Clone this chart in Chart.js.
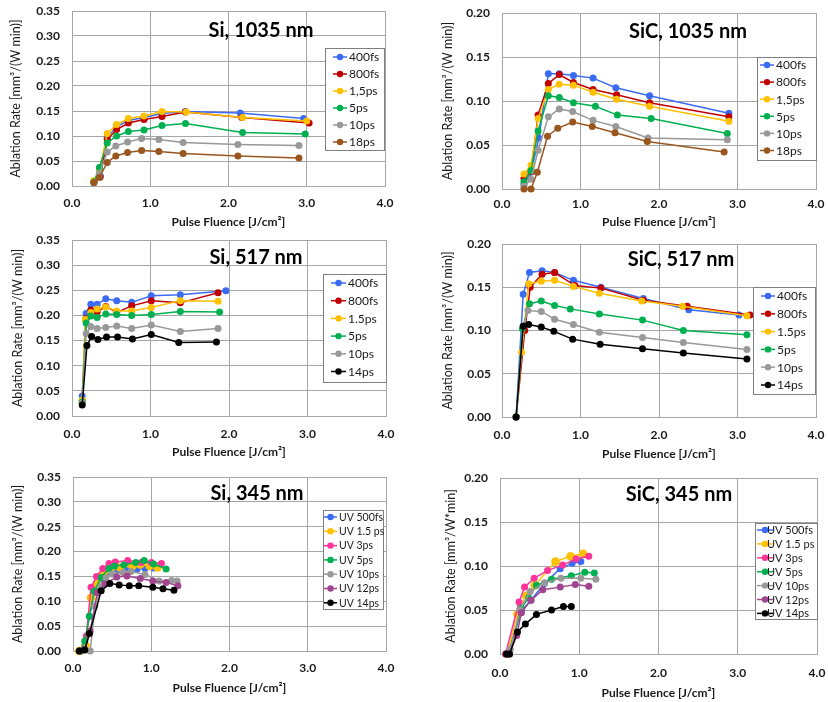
<!DOCTYPE html>
<html>
<head>
<meta charset="utf-8">
<title>Ablation rate vs pulse fluence</title>
<script src="https://cdn.jsdelivr.net/npm/chart.js@4.4.1/dist/chart.umd.min.js"></script>
<style>
  html, body { margin: 0; padding: 0; background: #fff; }
  body { width: 828px; height: 702px; position: relative; overflow: hidden; }
  canvas { position: absolute; }
</style>
</head>
<body>
<canvas id="p1"></canvas>
<canvas id="p2"></canvas>
<canvas id="p3"></canvas>
<canvas id="p4"></canvas>
<canvas id="p5"></canvas>
<canvas id="p6"></canvas>
<script>
// ---------- Daten ----------
const xTicks = [0, 1, 2, 3, 4];
const yTicksSi = [0, 0.05, 0.10, 0.15, 0.20, 0.25, 0.30, 0.35];
const yTicksSiC = [0, 0.05, 0.10, 0.15, 0.20];

// Si, 1035 nm
const si1035Labels = ['400fs', '800fs', '1,5ps', '5ps', '10ps', '18ps'];
const si1035Fluence = [
    [0.28, 0.36, 0.45, 0.57, 0.72, 0.92, 1.15, 1.45, 2.15, 2.96],
    [0.28, 0.36, 0.45, 0.57, 0.72, 0.92, 1.15, 1.45, 2.17, 3.03],
    [0.28, 0.35, 0.45, 0.57, 0.72, 0.92, 1.15, 1.46, 2.18, 3.00],
    [0.28, 0.35, 0.45, 0.57, 0.72, 0.92, 1.15, 1.45, 2.18, 2.98],
    [0.28, 0.35, 0.45, 0.56, 0.71, 0.89, 1.11, 1.42, 2.12, 2.90],
    [0.28, 0.35, 0.45, 0.56, 0.71, 0.89, 1.11, 1.42, 2.12, 2.90]
];
const si1035Rate = [
    [0.009, 0.021, 0.097, 0.119, 0.131, 0.137, 0.145, 0.149, 0.146, 0.135],
    [0.008, 0.018, 0.093, 0.113, 0.126, 0.133, 0.139, 0.148, 0.137, 0.126],
    [0.011, 0.030, 0.105, 0.123, 0.135, 0.140, 0.149, 0.148, 0.137, 0.130],
    [0.008, 0.037, 0.086, 0.100, 0.109, 0.112, 0.121, 0.125, 0.107, 0.104],
    [0.006, 0.025, 0.068, 0.080, 0.088, 0.095, 0.093, 0.087, 0.083, 0.081],
    [0.007, 0.017, 0.047, 0.060, 0.067, 0.071, 0.069, 0.065, 0.060, 0.056]
];

// SiC, 1035 nm
const sic1035Labels = ['400fs', '800fs', '1,5ps', '5ps', '10ps', '18ps'];
const sic1035Fluence = [
    [0.28, 0.37, 0.47, 0.59, 0.73, 0.91, 1.16, 1.45, 1.88, 2.89],
    [0.28, 0.37, 0.46, 0.59, 0.73, 0.91, 1.16, 1.46, 1.88, 2.89],
    [0.28, 0.37, 0.46, 0.59, 0.73, 0.91, 1.16, 1.46, 1.88, 2.89],
    [0.28, 0.37, 0.46, 0.59, 0.73, 0.91, 1.19, 1.47, 1.90, 2.87],
    [0.28, 0.37, 0.46, 0.59, 0.73, 0.90, 1.16, 1.45, 1.86, 2.87],
    [0.28, 0.37, 0.45, 0.58, 0.71, 0.90, 1.15, 1.44, 1.85, 2.83]
];
const sic1035Rate = [
    [0.005, 0.019, 0.058, 0.131, 0.131, 0.129, 0.126, 0.115, 0.106, 0.086],
    [0.012, 0.020, 0.084, 0.120, 0.130, 0.121, 0.113, 0.107, 0.098, 0.082],
    [0.017, 0.027, 0.080, 0.113, 0.119, 0.118, 0.110, 0.102, 0.094, 0.077],
    [0.008, 0.021, 0.066, 0.106, 0.104, 0.098, 0.094, 0.084, 0.080, 0.063],
    [0.003, 0.011, 0.044, 0.082, 0.091, 0.088, 0.078, 0.071, 0.058, 0.056],
    [0.000, 0.000, 0.019, 0.060, 0.069, 0.076, 0.071, 0.064, 0.054, 0.042]
];

// Si, 517 nm
const si517Labels = ['400fs', '800fs', '1.5ps', '5ps', '10ps', '14ps'];
const si517Fluence = [
    [0.13, 0.18, 0.24, 0.32, 0.43, 0.57, 0.76, 1.01, 1.38, 1.96],
    [0.13, 0.18, 0.24, 0.32, 0.43, 0.57, 0.76, 1.01, 1.38, 1.86],
    [0.13, 0.17, 0.24, 0.32, 0.43, 0.57, 0.76, 1.01, 1.38, 1.86],
    [0.13, 0.18, 0.24, 0.32, 0.43, 0.57, 0.76, 1.01, 1.38, 1.88],
    [0.13, 0.18, 0.24, 0.32, 0.43, 0.57, 0.76, 1.01, 1.38, 1.86],
    [0.13, 0.19, 0.25, 0.33, 0.44, 0.58, 0.77, 1.01, 1.36, 1.84]
];
const si517Rate = [
    [0.040, 0.204, 0.222, 0.222, 0.233, 0.229, 0.226, 0.239, 0.241, 0.249],
    [0.030, 0.194, 0.211, 0.207, 0.218, 0.206, 0.219, 0.229, 0.225, 0.245],
    [0.032, 0.192, 0.206, 0.213, 0.217, 0.209, 0.209, 0.216, 0.229, 0.228],
    [0.028, 0.185, 0.199, 0.196, 0.203, 0.202, 0.200, 0.202, 0.208, 0.207],
    [0.026, 0.164, 0.178, 0.174, 0.176, 0.179, 0.174, 0.181, 0.168, 0.174],
    [0.022, 0.140, 0.158, 0.152, 0.157, 0.157, 0.153, 0.162, 0.146, 0.147]
];

// SiC, 517 nm
const sic517Labels = ['400fs', '800fs', '1.5ps', '5ps', '10ps', '14ps'];
const sic517Fluence = [
    [0.18, 0.27, 0.35, 0.51, 0.67, 0.91, 1.26, 1.80, 2.38, 3.02],
    [0.18, 0.29, 0.36, 0.51, 0.67, 0.93, 1.26, 1.80, 2.36, 3.16],
    [0.18, 0.25, 0.34, 0.50, 0.67, 0.91, 1.24, 1.78, 2.30, 3.12],
    [0.18, 0.26, 0.35, 0.50, 0.67, 0.87, 1.24, 1.79, 2.31, 3.12],
    [0.18, 0.27, 0.33, 0.50, 0.67, 0.91, 1.24, 1.79, 2.31, 3.12],
    [0.18, 0.27, 0.34, 0.50, 0.66, 0.90, 1.25, 1.79, 2.31, 3.12]
];
const sic517Rate = [
    [0, 0.142, 0.167, 0.169, 0.167, 0.158, 0.150, 0.137, 0.124, 0.118],
    [0, 0.100, 0.150, 0.165, 0.167, 0.152, 0.149, 0.135, 0.128, 0.118],
    [0, 0.075, 0.154, 0.157, 0.158, 0.151, 0.143, 0.134, 0.128, 0.117],
    [0, 0.102, 0.131, 0.134, 0.129, 0.125, 0.119, 0.112, 0.100, 0.095],
    [0, 0.105, 0.123, 0.122, 0.113, 0.107, 0.098, 0.092, 0.086, 0.078],
    [0, 0.105, 0.107, 0.104, 0.099, 0.090, 0.084, 0.079, 0.074, 0.067]
];

// Si, 345 nm
const si345Labels = ['UV 500fs', 'UV 1.5 ps', 'UV 3ps', 'UV 5ps', 'UV 10ps', 'UV 12ps', 'UV 14ps'];
const si345Fluence = [
    [0.09, 0.15, 0.21, 0.29, 0.37, 0.46, 0.58, 0.71, 0.82, 0.92, 1.03],
    [0.08, 0.16, 0.23, 0.31, 0.39, 0.48, 0.60, 0.76, 0.86, 0.98, 1.08],
    [0.10, 0.17, 0.23, 0.30, 0.38, 0.46, 0.54, 0.70, 0.87, 1.00, 1.13],
    [0.10, 0.15, 0.21, 0.27, 0.36, 0.46, 0.53, 0.65, 0.80, 0.91, 1.03, 1.19],
    [0.22, 0.28, 0.36, 0.42, 0.50, 0.64, 0.74, 0.92, 1.10, 1.26, 1.33],
    [0.08, 0.15, 0.22, 0.31, 0.41, 0.56, 0.69, 0.86, 1.02, 1.19, 1.34],
    [0.08, 0.15, 0.21, 0.36, 0.47, 0.59, 0.72, 0.84, 1.02, 1.15, 1.29]
];
const si345Rate = [
    [0, 0.010, 0.070, 0.125, 0.145, 0.158, 0.163, 0.166, 0.165, 0.166, 0.167],
    [0, 0.011, 0.107, 0.135, 0.153, 0.164, 0.168, 0.171, 0.174, 0.171, 0.168],
    [0, 0.030, 0.128, 0.150, 0.166, 0.176, 0.179, 0.182, 0.178, 0.178, 0.176],
    [0, 0.020, 0.070, 0.120, 0.148, 0.166, 0.171, 0.173, 0.178, 0.182, 0.175, 0.165],
    [0, 0.090, 0.130, 0.147, 0.155, 0.158, 0.160, 0.154, 0.141, 0.142, 0.141],
    [0, 0.003, 0.040, 0.117, 0.135, 0.149, 0.151, 0.146, 0.141, 0.138, 0.131],
    [0, 0.002, 0.035, 0.121, 0.136, 0.133, 0.131, 0.131, 0.128, 0.125, 0.122]
];

// SiC, 345 nm
const sic345Labels = ['UV 500fs', 'UV 1.5 ps', 'UV 3ps', 'UV 5ps', 'UV 10ps', 'UV 12ps', 'UV 14ps'];
const sic345Fluence = [
    [0.10, 0.27, 0.39, 0.56, 0.76, 0.91, 1.02],
    [0.09, 0.22, 0.33, 0.44, 0.70, 0.89, 1.05],
    [0.07, 0.24, 0.31, 0.43, 0.60, 0.79, 0.96, 1.12],
    [0.11, 0.27, 0.36, 0.46, 0.65, 0.90, 1.07, 1.19],
    [0.09, 0.13, 0.25, 0.38, 0.56, 0.77, 1.02, 1.21],
    [0.08, 0.12, 0.21, 0.27, 0.39, 0.54, 0.76, 0.95, 1.12],
    [0.08, 0.12, 0.22, 0.32, 0.46, 0.65, 0.80, 0.90]
];
const sic345Rate = [
    [0, 0.049, 0.061, 0.080, 0.097, 0.103, 0.105],
    [0, 0.045, 0.066, 0.078, 0.105, 0.111, 0.114],
    [0, 0.059, 0.076, 0.086, 0.095, 0.101, 0.108, 0.111],
    [0, 0.052, 0.064, 0.078, 0.085, 0.089, 0.093, 0.092],
    [0, 0.005, 0.050, 0.071, 0.081, 0.086, 0.086, 0.085],
    [0, 0, 0.021, 0.047, 0.061, 0.073, 0.076, 0.079, 0.077],
    [0, 0, 0.025, 0.034, 0.045, 0.050, 0.054, 0.054]
];

// ---------- Farben ----------
const coresIR = ['#3b6bf3', '#c00000', '#ffc000', '#00b050', '#999999', '#99561f'];
const coresVerde = ['#3b6bf3', '#c00000', '#ffc000', '#00b050', '#999999', '#000000'];
const coresUV = ['#3b6bf3', '#ffc000', '#ff3399', '#00b050', '#999999', '#a0458f', '#000000'];

// ---------- Titel + Legende (Plugin) ----------
const painelDecor = {
    id: 'painelDecor',
    afterDraw(chart, args, o) {
        const ctx = chart.ctx;
        ctx.save();
        ctx.font = 'bold 20px Lato';
        ctx.fillStyle = '#000';
        ctx.textAlign = 'center';
        ctx.textBaseline = 'middle';
        ctx.fillText(o.title, o.titleX, o.titleY);

        const lg = o.legend;
        const [l, t, r, b] = lg.box;
        ctx.fillStyle = '#fff';
        ctx.fillRect(l, t, r - l, b - t);
        ctx.strokeStyle = '#7f7f7f';
        ctx.lineWidth = 1;
        ctx.strokeRect(Math.round(l) + 0.5, Math.round(t) + 0.5, Math.round(r - l), Math.round(b - t));
        ctx.font = lg.size + 'px Lato';
        ctx.textAlign = 'left';
        chart.data.datasets.forEach((ds, i) => {
            const y = lg.y0 + i * lg.step;
            ctx.strokeStyle = ds.borderColor;
            ctx.lineWidth = 1.5;
            ctx.beginPath();
            ctx.moveTo(l + lg.line[0], y);
            ctx.lineTo(l + lg.line[1], y);
            ctx.stroke();
            ctx.fillStyle = ds.backgroundColor;
            ctx.beginPath();
            ctx.arc(l + (lg.line[0] + lg.line[1]) / 2, y, 3.2, 0, Math.PI * 2);
            ctx.fill();
            ctx.fillStyle = '#1a1a1a';
            ctx.fillText(ds.label, l + lg.text, y + 0.5);
        });
        ctx.restore();
    }
};

// ---------- Layout (Seitenkoordinaten) ----------
const paineis = [
    { id: 'p1', labels: si1035Labels, fluence: si1035Fluence, rate: si1035Rate, cores: coresIR, yTicks: yTicksSi,
      title: 'Si, 1035 nm', titlePos: [261, 31], yTitle: 'Ablation Rate [mm³/(W min)]',
      box: [0, 0, 400, 232], plot: [72, 11, 385, 186], yTitleX: 16, yTickRight: 60, xTickY: 203, xTitleY: 222,
      legend: { box: [325, 48, 384, 150], y0: 57, step: 17, line: [8, 22], text: 24, size: 12 } },
    { id: 'p2', labels: sic1035Labels, fluence: sic1035Fluence, rate: sic1035Rate, cores: coresIR, yTicks: yTicksSiC,
      title: 'SiC, 1035 nm', titlePos: [688, 32], yTitle: 'Ablation Rate [mm³/(W min)]',
      box: [420, 0, 408, 232], plot: [502, 13, 816, 189], yTitleX: 448, yTickRight: 490, xTickY: 204, xTitleY: 222,
      legend: { box: [757, 57, 816, 160], y0: 65, step: 17.1, line: [3, 17], text: 19, size: 12 } },
    { id: 'p3', labels: si517Labels, fluence: si517Fluence, rate: si517Rate, cores: coresVerde, yTicks: yTicksSi,
      title: 'Si, 517 nm', titlePos: [256, 258], yTitle: 'Ablation Rate [mm³/(W min)]',
      box: [0, 229, 400, 235], plot: [72, 240, 386, 416], yTitleX: 18, yTickRight: 60, xTickY: 434, xTitleY: 452,
      legend: { box: [323, 274, 386, 382], y0: 283, step: 17.7, line: [8, 23], text: 25, size: 12 } },
    { id: 'p4', labels: sic517Labels, fluence: sic517Fluence, rate: sic517Rate, cores: coresVerde, yTicks: yTicksSiC,
      title: 'SiC, 517 nm', titlePos: [681, 260], yTitle: 'Ablation Rate [mm³/(W min)]',
      box: [420, 229, 408, 235], plot: [502, 244, 816, 417], yTitleX: 448, yTickRight: 491, xTickY: 435, xTitleY: 454,
      legend: { box: [753, 287, 815, 394], y0: 296, step: 17.8, line: [8, 22], text: 24, size: 12 } },
    { id: 'p5', labels: si345Labels, fluence: si345Fluence, rate: si345Rate, cores: coresUV, yTicks: yTicksSi,
      title: 'Si, 345 nm', titlePos: [257, 494], yTitle: 'Ablation Rate [mm³/(W min)]',
      box: [0, 460, 400, 242], plot: [73, 477, 386, 651], yTitleX: 18, yTickRight: 61, xTickY: 668, xTitleY: 688,
      legend: { box: [323, 510, 383, 609], y0: 517, step: 14.3, line: [1, 14], text: 16, size: 10.5 } },
    { id: 'p6', labels: sic345Labels, fluence: sic345Fluence, rate: sic345Rate, cores: coresUV, yTicks: yTicksSiC,
      title: 'SiC, 345 nm', titlePos: [679, 495], yTitle: 'Ablation Rate [mm³/W*min]',
      box: [420, 460, 408, 242], plot: [500, 478, 817, 654], yTitleX: 451, yTickRight: 488, xTickY: 673, xTitleY: 693,
      legend: { box: [755, 523, 817, 619], y0: 530, step: 13.9, line: [2, 18], text: 12, size: 11 } }
];

Chart.defaults.font.family = 'Lato';

function desenharPainel(p) {
    const cv = document.getElementById(p.id);
    const [cl, ct, cw, chh] = p.box;
    const [pl, pt, pr, pb] = p.plot;
    cv.width = cw;
    cv.height = chh;
    cv.style.left = cl + 'px';
    cv.style.top = ct + 'px';

    const n = p.labels.length;
    const datasets = p.labels.map((lab, i) => ({
        label: lab,
        data: p.fluence[i].map((x, j) => ({ x: x, y: p.rate[i][j] })),
        showLine: true,
        borderColor: p.cores[i],
        backgroundColor: p.cores[i],
        borderWidth: 1.5,
        pointRadius: (n === 7 && i === 1) ? 4.3 : 3.5,
        pointBorderWidth: 0,
        tension: 0,
        clip: false,
        order: n - i
    }));

    const rel = (b) => [b[0] - cl, b[1] - ct, b[2] - cl, b[3] - ct];

    new Chart(cv, {
        type: 'scatter',
        data: { datasets },
        options: {
            responsive: false,
            animation: false,
            devicePixelRatio: 1,
            layout: { padding: { left: 0, top: pt - ct, right: cl + cw - pr, bottom: 0 } },
            plugins: {
                legend: { display: false },
                tooltip: { enabled: false },
                painelDecor: {
                    title: p.title,
                    titleX: p.titlePos[0] - cl,
                    titleY: p.titlePos[1] - ct,
                    legend: Object.assign({}, p.legend, {
                        box: rel(p.legend.box),
                        y0: p.legend.y0 - ct
                    })
                }
            },
            scales: {
                x: {
                    type: 'linear',
                    min: xTicks[0],
                    max: xTicks[xTicks.length - 1],
                    afterBuildTicks: s => { s.ticks = xTicks.map(v => ({ value: v })); },
                    afterFit: s => {
                        s.height = ct + chh - pb;
                        s.paddingLeft = 0;
                        s.paddingRight = 0;
                    },
                    ticks: {
                        padding: p.xTickY - pb - 7.2,
                        maxRotation: 0,
                        color: '#1a1a1a',
                        font: { size: 12, weight: 'bold' },
                        callback: v => Number(v).toFixed(1)
                    },
                    grid: { color: '#a6a6a6', drawTicks: false },
                    border: { color: '#a6a6a6' },
                    title: {
                        display: true,
                        text: 'Pulse Fluence [J/cm²]',
                        color: '#1a1a1a',
                        font: { size: 12, weight: 'bold' },
                        padding: { top: 0, bottom: ct + chh - p.xTitleY - 7.2 }
                    }
                },
                y: {
                    min: p.yTicks[0],
                    max: p.yTicks[p.yTicks.length - 1],
                    afterBuildTicks: s => { s.ticks = p.yTicks.map(v => ({ value: v })); },
                    afterFit: s => {
                        s.width = pl - cl;
                        s.paddingTop = 0;
                        s.paddingBottom = 0;
                    },
                    ticks: {
                        padding: pl - p.yTickRight,
                        color: '#1a1a1a',
                        font: { size: 12, weight: 'bold' },
                        callback: v => Number(v).toFixed(2)
                    },
                    grid: { color: '#a6a6a6', drawTicks: false },
                    border: { color: '#a6a6a6' },
                    title: {
                        display: true,
                        text: p.yTitle,
                        color: '#1a1a1a',
                        font: { size: 12.5 },
                        padding: { top: p.yTitleX - cl - 7.5, bottom: 0 }
                    }
                }
            }
        },
        plugins: [painelDecor]
    });
}

paineis.forEach(desenharPainel);
</script>
</body>
</html>
